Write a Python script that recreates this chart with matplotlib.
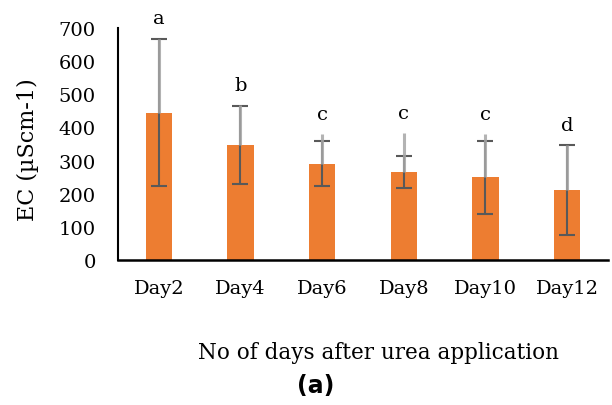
import matplotlib
matplotlib.use("Agg")
import matplotlib.pyplot as plt
import numpy as np

categories = ["Day2", "Day4", "Day6", "Day8", "Day10", "Day12"]
means = [445, 347, 290, 265, 250, 211]
errors = [221, 118, 68, 48, 110, 135]
upper_extent = [668, 467, 380, 383, 380, 347]
letters = ["a", "b", "c", "c", "c", "d"]
yticks = [0, 100, 200, 300, 400, 500, 600, 700]

plt.rcParams['font.family'] = ['DejaVu Serif']

fig = plt.figure(figsize=(6.12, 4.06), dpi=100)
ax = fig.add_axes([118/612, 1 - 261/406, 490/612, 232/406])

x = np.arange(len(categories))
ax.bar(x, means, width=0.32, color="#ED7D31", zorder=2)
ax.errorbar(x, means, yerr=errors, fmt="none", ecolor="#595959",
            elinewidth=1.5, capsize=6, capthick=1.5, zorder=3)
for xi, m, u in zip(x, means, upper_extent):
    ax.plot([xi, xi], [m, u], color="#a6a6a6", lw=2.2, alpha=0.85,
            solid_capstyle="butt", zorder=4)

for xi, m, e, u, lab in zip(x, means, errors, upper_extent, letters):
    top = max(m + e, u)
    ax.annotate(lab, (xi, top), xytext=(0, 8), textcoords="offset points",
                ha="center", va="bottom", fontsize=14, annotation_clip=False)

ax.set_xlim(-0.5, len(categories) - 0.5)
ax.set_ylim(0, 700)
ax.set_yticks(yticks)
ax.set_xticks(x)
ax.set_xticklabels(categories)
ax.tick_params(axis="both", length=0, labelsize=14)
ax.tick_params(axis="x", pad=14)
ax.tick_params(axis="y", pad=16)
for s in ["top", "right"]:
    ax.spines[s].set_visible(False)
ax.spines["left"].set_linewidth(1.5)
ax.spines["bottom"].set_linewidth(1.8)

fig.text(28/612, 1 - 150/406, "EC (µScm-1)", rotation=90, ha="center",
         va="center", fontsize=16)
fig.text(379/612, 1 - 353/406, "No of days after urea application",
         ha="center", va="center", fontsize=15.5)
fig.text(316/612, 1 - 386/406, "(a)", ha="center", va="center",
         fontsize=17, fontweight="bold", family="DejaVu Sans")

fig.savefig("out.png", dpi=100)
